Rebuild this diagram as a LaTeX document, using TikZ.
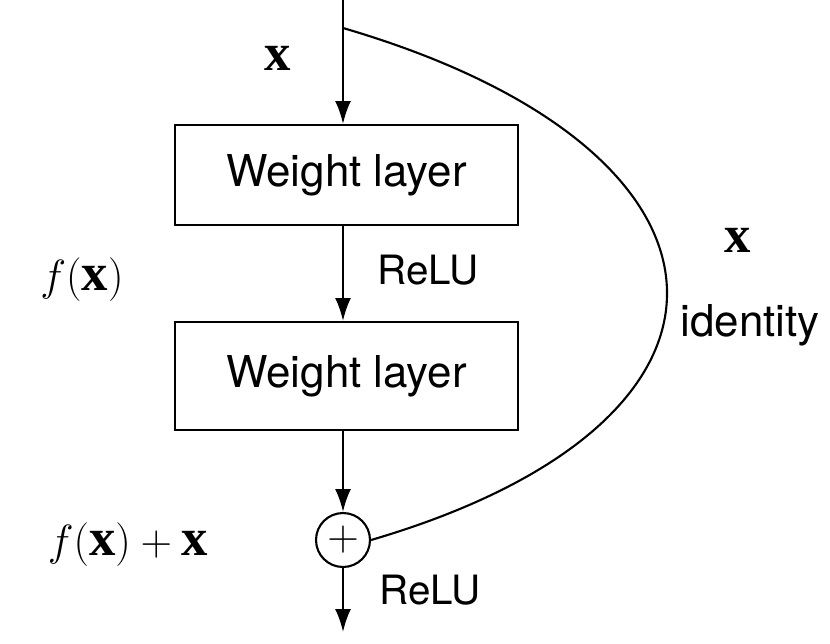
\documentclass[tikz,border=0pt]{standalone}
\usepackage{fontspec}
\setmainfont{Liberation Serif}
\newfontfamily\heros{TeX Gyre Heros}
\usetikzlibrary{positioning,arrows.meta}
\begin{document}
\begin{tikzpicture}[x=0.02cm,y=-0.02cm,line width=1.2pt,
  layer/.style={draw, minimum width=6.86cm, minimum height=2cm, font=\heros\fontsize{25}{30}\selectfont},
  lbl/.style={font=\heros\fontsize{23}{28}\selectfont},
  mlbl/.style={font=\fontsize{30}{34}\selectfont},
  flow/.style={-{Latex[length=13pt,width=9pt]}}]
\useasboundingbox (0,0) rectangle (830,643);
\coordinate (in) at (343,0);
\coordinate (out) at (343,632);
\node[layer] (w1) at (346.5,175) {Weight layer};
\node[layer, minimum height=2.16cm] (w2) at (346.5,376) {Weight layer};
\node[draw, circle, minimum size=1.08cm, inner sep=0pt, font=\fontsize{30}{34}\selectfont] (add) at (343,540) {$+$};
% main path
\draw[flow] (in) -- (in |- w1.north);
\draw[flow] (w1.south -| in) -- (w2.north -| in);
\draw[flow] (w2.south -| in) -- (add.north);
\draw[flow] (add.south) -- (out);
% identity shortcut
\draw (343,28) .. controls (760,150) and (780,420) .. (add.east);
% labels
\node[lbl] (r1) at (428,270) {ReLU};
\node[lbl] (r2) at (430,590) {ReLU};
\node[lbl, font=\heros\fontsize{25}{30}\selectfont] (id) at (750,325) {identity};
\node[mlbl] (x1) at (278,58) {$\mathbf{x}$};
\node[mlbl] (x2) at (738,240) {$\mathbf{x}$};
\node[mlbl] (fx) at (82,280) {$f(\mathbf{x})$};
\node[mlbl] (fxx) at (128,545) {$f(\mathbf{x})+\mathbf{x}$};
\end{tikzpicture}
\end{document}
